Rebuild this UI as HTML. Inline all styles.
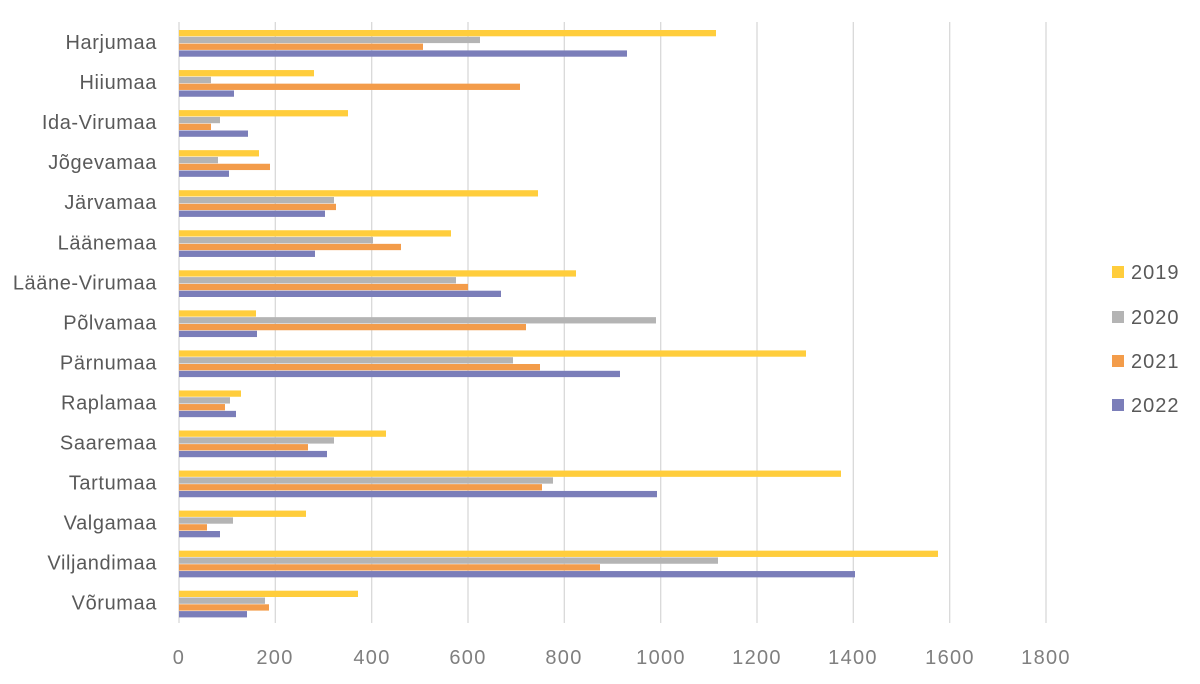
<!DOCTYPE html>
<html><head><meta charset="utf-8"><style>
body{margin:0;background:#fff;}
svg text{font-family:"Liberation Sans",sans-serif;}
</style></head><body>
<svg width="1200" height="679" xmlns="http://www.w3.org/2000/svg">
<rect width="1200" height="679" fill="#fff"/>
<g stroke="#d9d9d9" stroke-width="1.3">
<line x1="179" y1="22" x2="179" y2="623"/>
<line x1="275.3" y1="22" x2="275.3" y2="623"/>
<line x1="371.7" y1="22" x2="371.7" y2="623"/>
<line x1="468" y1="22" x2="468" y2="623"/>
<line x1="564.3" y1="22" x2="564.3" y2="623"/>
<line x1="660.7" y1="22" x2="660.7" y2="623"/>
<line x1="757" y1="22" x2="757" y2="623"/>
<line x1="853.3" y1="22" x2="853.3" y2="623"/>
<line x1="949.7" y1="22" x2="949.7" y2="623"/>
<line x1="1046" y1="22" x2="1046" y2="623"/>
</g>
<g font-size="20" letter-spacing="1.3" fill="#7f7f7f" text-anchor="middle">
<text x="179" y="664">0</text><text x="275" y="664">200</text><text x="372" y="664">400</text><text x="468" y="664">600</text><text x="564" y="664">800</text><text x="661" y="664">1000</text><text x="757" y="664">1200</text><text x="853" y="664">1400</text><text x="950" y="664">1600</text><text x="1046" y="664">1800</text>
</g>
<g id="bars"></g>
<g font-size="20" letter-spacing="0.6" fill="#595959" text-anchor="end" id="labels"></g>
<g font-size="20" letter-spacing="1" fill="#595959">
<rect x="1112" y="266" width="12" height="12" fill="#FFCD3C"/><text x="1131" y="279">2019</text>
<rect x="1112" y="311" width="12" height="12" fill="#B4B4B4"/><text x="1131" y="324">2020</text>
<rect x="1112" y="355" width="12" height="12" fill="#F39C4A"/><text x="1131" y="368">2021</text>
<rect x="1112" y="399" width="12" height="12" fill="#7B7EB9"/><text x="1131" y="412">2022</text>
</g>
<script>
var names=["Harjumaa","Hiiumaa","Ida-Virumaa","Jõgevamaa","Järvamaa","Läänemaa","Lääne-Virumaa","Põlvamaa","Pärnumaa","Raplamaa","Saaremaa","Tartumaa","Valgamaa","Viljandimaa","Võrumaa"];
var fin=[[537,301,244,448],[135,32,341,55],[169,41,32,69],[80,39,91,50],[359,155,157,146],[272,194,222,136],[397,277,289,322],[77,477,347,78],[627,334,361,441],[62,51,46,57],[207,155,129,148],[662,374,363,478],[127,54,28,41],[759,539,421,676],[179,86,90,68]];
var c=["#FFCD3C","#B4B4B4","#F39C4A","#7B7EB9"];
var ns="http://www.w3.org/2000/svg",b=document.getElementById("bars"),l=document.getElementById("labels");
for(var i=0;i<15;i++){
 var y0=23+i*40.05;
 for(var k=0;k<4;k++){
  var r=document.createElementNS(ns,"rect");
  r.setAttribute("x",179);r.setAttribute("y",y0+7+k*6.8);
  r.setAttribute("width",fin[i][k]);r.setAttribute("height",6.3);
  r.setAttribute("fill",c[k]);b.appendChild(r);
 }
 var t=document.createElementNS(ns,"text");
 t.setAttribute("x",157);t.setAttribute("y",y0+26);t.textContent=names[i];l.appendChild(t);
}
</script>
</svg>
</body></html>
